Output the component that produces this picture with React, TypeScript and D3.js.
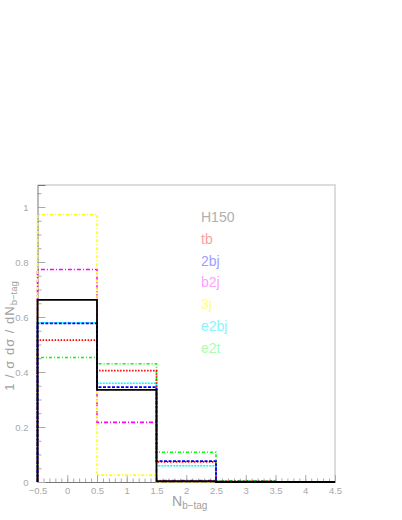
import { useEffect, useRef } from "react";
import * as d3 from "d3";

// bin edges of the b-tag multiplicity histogram
const binEdges = [-0.5, 0.5, 1.5, 2.5, 3.5, 4.5];

const seriesNames = ["H150", "tb", "2bj", "b2j", "3j", "e2bj", "e2t"];
const h150 = [0.662, 0.335, 0.003, 0.0, 0.0];
const tb = [0.516, 0.405, 0.073, 0.002, 0.0];
const b2bj = [0.577, 0.345, 0.076, 0.001, 0.0];
const b2j = [0.773, 0.217, 0.005, 0.0, 0.0];
const j3 = [0.973, 0.025, 0.001, 0.0, 0.0];
const e2bj = [0.579, 0.359, 0.059, 0.001, 0.0];
const e2t = [0.453, 0.43, 0.108, 0.004, 0.0];

const xTicks = [-0.5, 0, 0.5, 1, 1.5, 2, 2.5, 3, 3.5, 4, 4.5];
const yTicks = [0, 0.2, 0.4, 0.6, 0.8, 1];

const styles = [
  { stroke: "#000000", dash: null, width: 1.8, text: "#b0b0b0" },
  { stroke: "#ff0000", dash: "1.5,1.5", width: 1.8, text: "#ffa0a0" },
  { stroke: "#0000ff", dash: "3,1.5", width: 1.8, text: "#a0a0ff" },
  { stroke: "#ff00ff", dash: "4,2,1,2", width: 1.6, text: "#ffa0ff" },
  { stroke: "#ffff00", dash: "3,2,1,2", width: 1.6, text: "#ffff80" },
  { stroke: "#00ffff", dash: "2,1", width: 1.6, text: "#88f4ff" },
  { stroke: "#00ff00", dash: "3,2,1,2", width: 1.6, text: "#a8ffa8" },
];

function App() {
  const ref = useRef<HTMLDivElement>(null);

  useEffect(() => {
    document.body.style.margin = "0";
    const container = d3.select(ref.current);
    container.selectAll("*").remove();

    const width = 402;
    const height = 520;
    const margin = { top: 185, right: 67, bottom: 38, left: 37.5 };
    const font = "'Liberation Sans', Arial, sans-serif";

    const svg = container
      .append("svg")
      .attr("width", width)
      .attr("height", height)
      .style("display", "block")
      .style("background", "#fff");

    const x = d3
      .scaleLinear()
      .domain([-0.5, 4.5])
      .range([margin.left, width - margin.right]);

    const y = d3
      .scaleLinear()
      .domain([0, 1.08])
      .range([height - margin.bottom, margin.top]);

    const x0 = margin.left;
    const x1 = width - margin.right;
    const y0 = height - margin.bottom;
    const y1 = margin.top;

    // frame: light shadow on top and right
    svg
      .append("path")
      .attr("d", `M${x0},${y1}H${x1}V${y0}`)
      .attr("fill", "none")
      .attr("stroke", "#dcdcdc")
      .attr("stroke-width", 2);

    // minor ticks
    const xMinor = d3.range(-0.5, 4.5001, 0.1);
    const yMinor = d3.range(0, 1.0501, 0.05);

    svg
      .append("g")
      .attr("transform", `translate(0,${y0})`)
      .call(d3.axisBottom(x).tickValues(xMinor).tickSize(-3.5).tickFormat(() => ""))
      .call((g) => g.select(".domain").remove())
      .call((g) => g.selectAll("line").attr("stroke", "#aaa"));

    svg
      .append("g")
      .attr("transform", `translate(${x0},0)`)
      .call(d3.axisLeft(y).tickValues(yMinor).tickSize(-4).tickFormat(() => ""))
      .call((g) => g.select(".domain").remove())
      .call((g) => g.selectAll("line").attr("stroke", "#aaa"));

    // major ticks with labels
    svg
      .append("g")
      .attr("transform", `translate(0,${y0})`)
      .call(
        d3
          .axisBottom(x)
          .tickValues(xTicks)
          .tickSize(-7)
          .tickPadding(5)
          .tickFormat((d) => d3.format("")(d as number).replace("-", "\u2212"))
      )
      .call((g) => g.select(".domain").attr("stroke", "#777"))
      .call((g) => g.selectAll("line").attr("stroke", "#aaa"))
      .call((g) =>
        g.selectAll("text").attr("fill", "#a8a8a8").style("font-size", "9.5px").style("font-family", font)
      );

    svg
      .append("g")
      .attr("transform", `translate(${x0},0)`)
      .call(
        d3
          .axisLeft(y)
          .tickValues(yTicks)
          .tickSize(-8)
          .tickPadding(9)
          .tickFormat((d) => d3.format("")(d as number))
      )
      .call((g) => g.select(".domain").attr("stroke", "#777"))
      .call((g) => g.selectAll("line").attr("stroke", "#aaa"))
      .call((g) =>
        g.selectAll("text").attr("fill", "#a8a8a8").style("font-size", "9.5px").style("font-family", font)
      );

    // histograms
    const allSeries = [h150, tb, b2bj, b2j, j3, e2bj, e2t];
    const line = d3
      .line<[number, number]>()
      .x((d) => x(d[0]))
      .y((d) => y(d[1]));

    const drawOrder = [5, 6, 1, 3, 4, 2, 0];
    drawOrder.forEach((i) => {
      const vals = allSeries[i];
      const pts: [number, number][] = [[binEdges[0], 0]];
      vals.forEach((v, k) => {
        pts.push([binEdges[k], v]);
        pts.push([binEdges[k + 1], v]);
      });
      pts.push([binEdges[binEdges.length - 1], 0]);
      const s = styles[i];
      svg
        .append("path")
        .attr("d", line(pts))
        .attr("fill", "none")
        .attr("stroke", s.stroke)
        .attr("stroke-width", s.width)
        .attr("stroke-dasharray", s.dash);
    });

    // legend labels
    svg
      .append("g")
      .selectAll("text")
      .data(seriesNames)
      .enter()
      .append("text")
      .attr("x", 201)
      .attr("y", (d, i) => 222 + i * 21.8)
      .attr("fill", (d, i) => styles[i].text)
      .style("font-size", "14px")
      .style("font-family", font)
      .text((d) => d);

    // axis titles
    const xt = svg
      .append("text")
      .attr("x", 172)
      .attr("y", 506)
      .attr("fill", "#a0a0a0")
      .style("font-family", font)
      .style("font-size", "14px");
    xt.append("tspan").text("N");
    xt.append("tspan").attr("dy", 3).style("font-size", "10px").text("b\u2212tag");

    const yt = svg
      .append("text")
      .attr("transform", "translate(14,336) rotate(-90)")
      .attr("text-anchor", "middle")
      .attr("fill", "#a0a0a0")
      .style("font-family", font)
      .style("font-size", "13px")
      .style("letter-spacing", "1px");
    yt.append("tspan").text("1 / \u03c3  d\u03c3 / dN");
    yt.append("tspan").attr("dy", 3).style("font-size", "9.5px").style("letter-spacing", "0px").text("b\u2212tag");
  }, []);

  return <div ref={ref} />;
}

export default App;
